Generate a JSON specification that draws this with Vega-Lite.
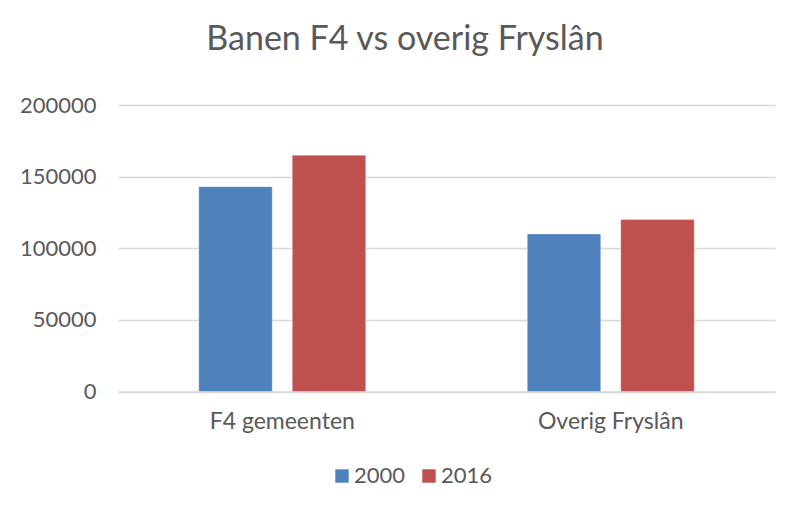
{
  "$schema": "https://vega.github.io/schema/vega-lite/v6.json",
  "autosize": "none",
  "width": 657,
  "height": 286.5,
  "padding": {"left": 118, "top": 105, "right": 20, "bottom": 119.5},
  "background": "white",
  "title": {
    "text": "Banen F4 vs overig Fryslân",
    "font": "Lato",
    "fontSize": 34,
    "fontWeight": "normal",
    "color": "#595959",
    "anchor": "middle",
    "dx": -41.5,
    "offset": 37
  },
  "data": {
    "values": [
      {"categorie": "F4 gemeenten", "jaar": "2000", "banen": 143000},
      {"categorie": "F4 gemeenten", "jaar": "2016", "banen": 165000},
      {"categorie": "Overig Fryslân", "jaar": "2000", "banen": 110000},
      {"categorie": "Overig Fryslân", "jaar": "2016", "banen": 120000}
    ]
  },
  "mark": {"type": "bar", "stroke": "white", "strokeOpacity": 0.35, "strokeWidth": 1},
  "encoding": {
    "x": {
      "field": "categorie",
      "type": "nominal",
      "sort": null,
      "title": null,
      "scale": {"paddingInner": 0, "paddingOuter": 0},
      "axis": {
        "labelAngle": 0,
        "labelFont": "Lato",
        "labelFontSize": 23,
        "labelColor": "#595959",
        "labelPadding": 19,
        "ticks": false,
        "domainColor": "#D9D9D9",
        "domainWidth": 1.5
      }
    },
    "xOffset": {
      "field": "jaar",
      "type": "nominal",
      "scale": {"paddingInner": 0.214, "paddingOuter": 0.864}
    },
    "y": {
      "field": "banen",
      "type": "quantitative",
      "title": null,
      "scale": {"domain": [0, 200000]},
      "axis": {
        "values": [0, 50000, 100000, 150000, 200000],
        "format": "d",
        "labelFont": "Lato",
        "labelFontSize": 22,
        "labelColor": "#595959",
        "labelPadding": 22,
        "ticks": false,
        "domain": false,
        "gridColor": "#D9D9D9",
        "gridWidth": 1.5
      }
    },
    "color": {
      "field": "jaar",
      "type": "nominal",
      "title": null,
      "scale": {"domain": ["2000", "2016"], "range": ["#4F81BD", "#C0504D"]},
      "legend": {
        "orient": "none",
        "legendX": 213,
        "legendY": 360,
        "direction": "horizontal",
        "symbolType": "square",
        "symbolSize": 180,
        "symbolStrokeWidth": 0,
        "labelFont": "Lato",
        "labelFontSize": 22,
        "labelColor": "#595959",
        "columnPadding": 12,
        "labelOffset": 1
      }
    }
  },
  "config": {"view": {"stroke": null}}
}
